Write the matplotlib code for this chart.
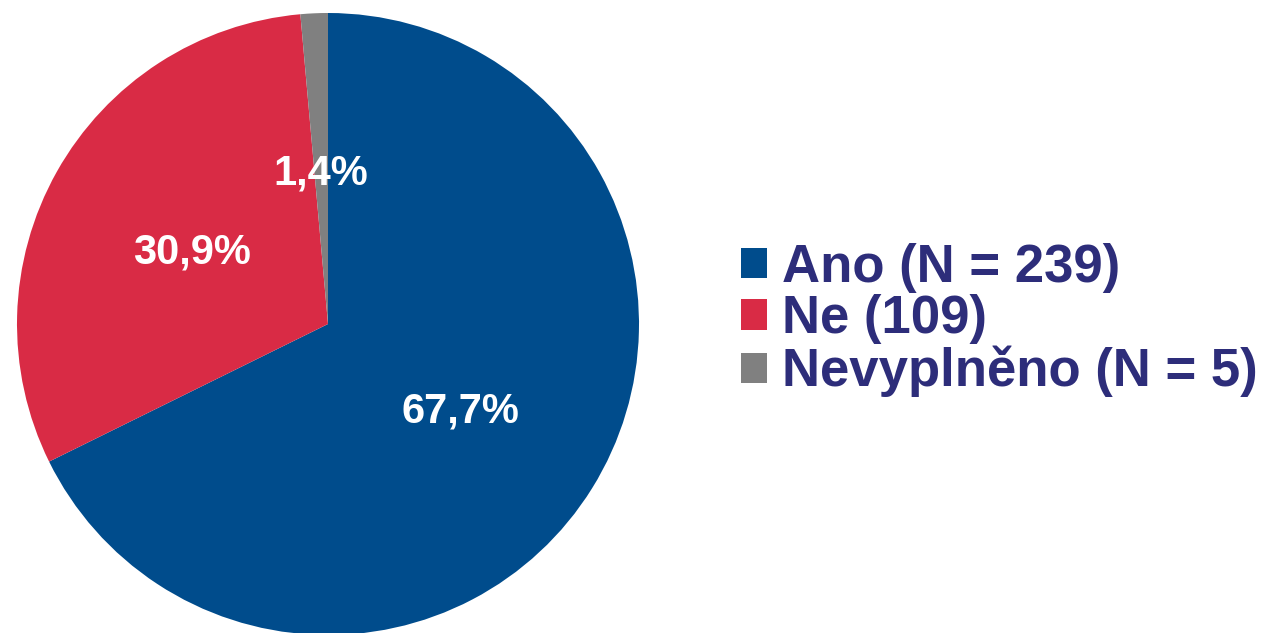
import matplotlib
matplotlib.use("Agg")
import matplotlib.pyplot as plt

categories = ["Ano (N = 239)", "Ne (109)", "Nevyplněno (N = 5)"]
counts = [239, 109, 5]
colors = ["#004C8C", "#D92B45", "#808080"]
text_color = "#2D2D7A"

plt.rcParams['font.family'] = ['Liberation Sans', 'DejaVu Sans']

W, H = 1266, 633
fig = plt.figure(figsize=(W / 100, H / 100), dpi=100)
cx, cy, r = 328, 324, 311
ax = fig.add_axes([(cx - r) / W, (H - cy - r) / H, 2 * r / W, 2 * r / H])

def fmt(p):
    return f"{p:.1f}".replace(".", ",") + "%"

wedges, texts, autotexts = ax.pie(
    counts, colors=colors, startangle=90, counterclock=False,
    autopct=fmt, pctdistance=0.5, radius=1,
    wedgeprops=dict(linewidth=0),
    textprops=dict(color="white", fontsize=30, fontweight="bold"))
for t in autotexts:
    x, y = t.get_position()
    t.set_position((x, y - 5 / r))
ax.set_xlim(-1, 1)
ax.set_ylim(-1, 1)
ax.set_aspect("equal")
ax.axis("off")

leg = fig.legend(wedges, categories, loc="center left",
                 bbox_to_anchor=(741 / W, 1 - 320 / H),
                 frameon=False, fontsize=38, borderpad=0, borderaxespad=0,
                 handlelength=0.5, handleheight=0.5, handletextpad=0.28,
                 labelspacing=0.03)
for t in leg.get_texts():
    t.set_color(text_color)
    t.set_fontweight("bold")

fig.savefig("out.png", dpi=100)
